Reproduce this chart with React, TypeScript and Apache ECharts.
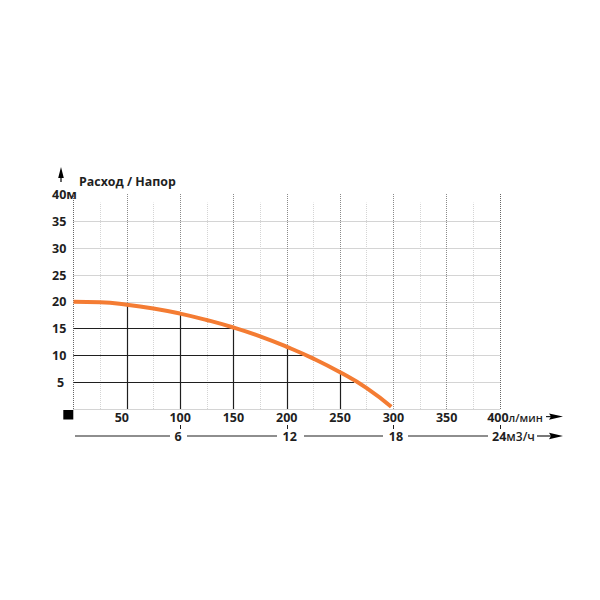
import React, { useEffect, useRef } from 'react'
import * as echarts from 'echarts'

// flow in l/min and head in metres
const flowValues = [0, 25, 50, 75, 100, 125, 150, 175, 200, 225, 250, 275, 298]
const headValues = [20, 19.9, 19.45, 18.75, 17.8, 16.6, 15.2, 13.55, 11.6, 9.4, 6.85, 3.9, 0.4]

const dropFlows = [50, 100, 150, 200, 250]
const dropHeads = [19.45, 17.8, 15.2, 11.6, 6.85]
const levelHeads = [15, 10, 5]
const levelFlows = [150, 215, 263]

const gridHeads = [0, 5, 10, 15, 20, 25, 30, 35]
const headTicks = [5, 10, 15, 20, 25, 30, 35, 40]
const majorFlows = [50, 100, 150, 200, 250, 300, 350]
const edgeFlows = [0, 400]
const minorFlows = [25, 75, 125, 175, 225, 275, 325, 375]
const m3Ticks = [6, 12, 18, 24]

const FONT = '"Open Sans", sans-serif'
const INK = '#1f1f1f'
const ORANGE = '#f47c33'
const HEAD_MAX = 40.3
const DOT = [1, 1]

const labelStyle = { fontFamily: FONT, fontWeight: 700, fontSize: 12.5, color: INK }
const unitStyle = { fontFamily: FONT, fontWeight: 600, fontSize: 11, color: INK }

const segment = (x1: number, y1: number, x2: number, y2: number, width = 1.2) => ({
  type: 'line',
  silent: true,
  shape: { x1, y1, x2, y2 },
  style: { stroke: INK, lineWidth: width },
})

const flowLabel = (v: number) => {
  if (v === 0) return ''
  if (v === 50) return `{l|${v}}`
  if (v === 400) return `{r|${v}}{u|л/мин}`
  return `{n|${v}}`
}

const m3Label = (v: number) => {
  if (v === 6) return `{a|${v}}`
  if (v === 12) return `{b|${v}}`
  if (v === 18) return `{c|${v}}`
  return `{d|${v}}{u|м3/ч}`
}

const App: React.FC = () => {
  const chartRef = useRef<HTMLDivElement>(null)

  useEffect(() => {
    if (!chartRef.current) return

    const chart = echarts.init(chartRef.current, undefined, { renderer: 'svg' })

    const verticals = (xs: number[], top: number, color: string) =>
      xs.map(x => [
        { coord: [x, 0], lineStyle: { color, width: 1, type: DOT } },
        { coord: [x, top] },
      ])

    const option = {
      animation: false,
      backgroundColor: '#fff',
      textStyle: { fontFamily: FONT },
      grid: { left: 73.5, right: 100, top: 193, bottom: 191 },
      xAxis: [
        {
          type: 'value',
          min: 0,
          max: 400,
          interval: 50,
          axisLine: { show: false },
          axisTick: { show: false },
          splitLine: { show: false },
          axisLabel: {
            margin: 8,
            verticalAlign: 'middle',
            formatter: flowLabel,
            rich: {
              n: labelStyle,
              l: { ...labelStyle, padding: [0, 10, 0, 0] },
              r: { ...labelStyle, padding: [0, 0, 0, 30] },
              u: unitStyle,
            },
          },
        },
        {
          type: 'value',
          position: 'bottom',
          offset: 16,
          min: 0,
          max: 24,
          interval: 6,
          axisLine: { show: false },
          axisTick: { show: true, length: 4, customValues: m3Ticks, lineStyle: { color: INK, width: 1 } },
          splitLine: { show: false },
          axisLabel: {
            margin: 11,
            verticalAlign: 'middle',
            customValues: m3Ticks,
            formatter: m3Label,
            rich: {
              a: { ...labelStyle, padding: [0, 4, 0, 0] },
              b: { ...labelStyle, padding: [0, 0, 0, 6] },
              c: { ...labelStyle, padding: [0, 0, 0, 5] },
              d: { ...labelStyle, padding: [0, 0, 0, 27] },
              u: { ...unitStyle, fontSize: 12 },
            },
          },
        },
      ],
      yAxis: {
        type: 'value',
        min: 0,
        max: HEAD_MAX,
        axisLine: { show: false },
        axisTick: { show: false },
        splitLine: { show: false },
        axisLabel: {
          align: 'left',
          margin: 21.5,
          customValues: headTicks,
          formatter: (v: number) => {
            if (v === 40) return `{n|${v}м}`
            if (v === 5) return `{s|${v}}`
            return `{n|${v}}`
          },
          rich: {
            n: labelStyle,
            s: { ...labelStyle, padding: [0, 0, 0, 5] },
          },
        },
      },
      series: [
        {
          name: 'Сетка',
          type: 'line',
          data: [],
          silent: true,
          markLine: {
            silent: true,
            symbol: 'none',
            label: { show: false },
            data: [
              ...gridHeads.map(y => [
                { coord: [0, y], lineStyle: { color: '#a8a8a8', width: 1, type: DOT } },
                { coord: [400, y] },
              ]),
              ...verticals(minorFlows, 38.5, '#d4d4d4'),
              ...verticals(majorFlows, HEAD_MAX, '#8a8a8a'),
              ...verticals(edgeFlows, HEAD_MAX, '#666666'),
            ],
          },
        },
        {
          name: 'Уровни',
          type: 'line',
          data: [],
          silent: true,
          markLine: {
            silent: true,
            symbol: 'none',
            label: { show: false },
            lineStyle: { color: INK, width: 1.2, type: 'solid' },
            data: [
              ...dropFlows.map((x, i) => [{ coord: [x, 0] }, { coord: [x, dropHeads[i]] }]),
              ...levelHeads.map((y, i) => [{ coord: [0, y] }, { coord: [levelFlows[i], y] }]),
            ],
          },
        },
        {
          name: 'Напор',
          type: 'line',
          data: flowValues.map((x, i) => [x, headValues[i]]),
          smooth: 0.5,
          showSymbol: false,
          z: 5,
          lineStyle: { color: ORANGE, width: 4 },
        },
      ],
      graphic: [
        {
          type: 'text',
          x: 79,
          y: 181,
          style: { text: 'Расход / Напор', font: `700 12.4px ${FONT}`, fill: INK, textVerticalAlign: 'middle' },
        },
        { type: 'polygon', shape: { points: [[61, 167], [63.8, 178], [61.6, 178], [61.6, 182], [60.4, 182], [60.4, 178], [58.2, 178]] }, style: { fill: '#000' } },
        { type: 'rect', shape: { x: 63.3, y: 410, width: 10, height: 9.5 }, style: { fill: '#000' } },
        // л/мин arrow
        segment(546, 416.6, 552, 416.6),
        { type: 'polygon', shape: { points: [[563, 416.6], [549, 413.4], [551, 416.6], [549, 419.8]] }, style: { fill: '#000' } },
        // м3/ч rule, broken by its labels
        segment(75, 436, 170, 436),
        segment(187, 436, 277, 436),
        segment(304, 436, 383, 436),
        segment(408, 436, 488, 436),
        segment(537, 436, 552, 436),
        { type: 'polygon', shape: { points: [[563, 436], [549, 432.8], [551, 436], [549, 439.2]] }, style: { fill: '#000' } },
      ],
    }

    chart.setOption(option as any)

    return () => {
      chart.dispose()
    }
  }, [])

  return <div ref={chartRef} style={{ position: 'absolute', left: 0, top: 0, width: 600, height: 600 }} />
}

export default App
